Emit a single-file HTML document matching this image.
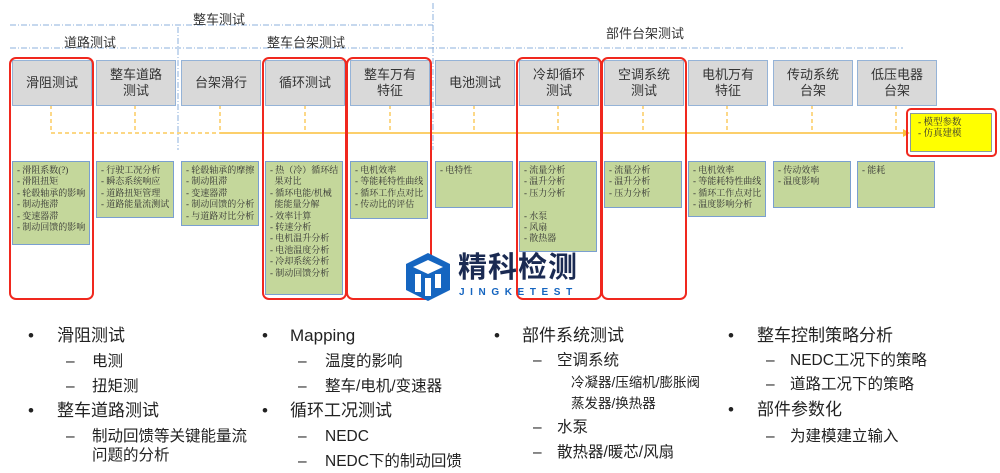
<!DOCTYPE html>
<html><head><meta charset="utf-8"><style>
body{margin:0;width:1000px;height:473px;background:#fff;position:relative;overflow:hidden;font-family:"Liberation Sans","Noto Sans CJK SC",sans-serif;}
.a{position:absolute}
.g{position:absolute;top:60px;width:78px;height:44px;background:#d9d9d9;border:1px solid #95b3d7;display:flex;align-items:center;justify-content:center;text-align:center;font-size:13px;line-height:16px;color:#333}
.gr{position:absolute;top:161px;width:78px;background:#c4d79b;border:1.5px solid #7a9fd0;box-sizing:border-box;padding:3px 0 0 4px;font-family:"Liberation Serif","Noto Serif CJK SC",serif;font-size:9px;line-height:11.4px;color:#333;white-space:nowrap;overflow:hidden}
.r{position:absolute;top:57px;height:243px;border:2.5px solid #f0281e;border-radius:7px;box-sizing:border-box}
.t{position:absolute;font-size:17px;color:#222;white-space:nowrap;line-height:20px}
.s{font-size:15.5px}
.ss{font-size:13.5px}
</style></head><body>
<svg class="a" style="left:0;top:0" width="1000" height="473">
<g stroke="#8eb0dc" stroke-width="1" stroke-dasharray="6,2,1,2" fill="none">
<line x1="10" y1="25" x2="433" y2="25"/>
<line x1="10" y1="48" x2="903" y2="48"/>
<line x1="178" y1="27" x2="178" y2="150"/>
<line x1="433" y1="3" x2="433" y2="150"/>
</g>
<g stroke="#fbbf3a" stroke-width="1.2" stroke-dasharray="4,3">
<line x1="51" y1="105" x2="51" y2="133"/><line x1="135" y1="105" x2="135" y2="133"/><line x1="220" y1="105" x2="220" y2="133"/><line x1="305" y1="105" x2="305" y2="133"/><line x1="390" y1="105" x2="390" y2="133"/><line x1="474" y1="105" x2="474" y2="133"/><line x1="558" y1="105" x2="558" y2="133"/><line x1="643" y1="105" x2="643" y2="133"/><line x1="727" y1="105" x2="727" y2="133"/><line x1="812" y1="105" x2="812" y2="133"/><line x1="896" y1="105" x2="896" y2="133"/>
<line x1="51" y1="133" x2="220" y2="133"/>
</g>
<line x1="220" y1="133" x2="903" y2="133" stroke="#fbbf3a" stroke-width="1.5"/>
<polygon points="903,129 910,133 903,137" fill="#fbbf3a"/>
</svg>
<div class="a" style="left:193px;top:9px;font-size:13px;color:#333">整车测试</div>
<div class="a" style="left:64px;top:32px;font-size:13px;color:#333">道路测试</div>
<div class="a" style="left:267px;top:32px;font-size:13px;color:#333">整车台架测试</div>
<div class="a" style="left:606px;top:23px;font-size:13px;color:#333">部件台架测试</div>

<div class="g" style="left:12px">滑阻测试</div>
<div class="g" style="left:96px">整车道路<br>测试</div>
<div class="g" style="left:181px">台架滑行</div>
<div class="g" style="left:265px">循环测试</div>
<div class="g" style="left:350px">整车万有<br>特征</div>
<div class="g" style="left:435px">电池测试</div>
<div class="g" style="left:519px">冷却循环<br>测试</div>
<div class="g" style="left:604px">空调系统<br>测试</div>
<div class="g" style="left:688px">电机万有<br>特征</div>
<div class="g" style="left:773px">传动系统<br>台架</div>
<div class="g" style="left:857px">低压电器<br>台架</div>

<div class="gr" style="left:12px;height:84px">- 滑阻系数(?)<br>- 滑阻扭矩<br>- 轮毂轴承的影响<br>- 制动拖滞<br>- 变速器滞<br>- 制动回馈的影响</div>
<div class="gr" style="left:96px;height:57px">- 行驶工况分析<br>- 瞬态系统响应<br>- 道路扭矩管理<br>- 道路能量流测试</div>
<div class="gr" style="left:181px;height:65px">- 轮毂轴承的摩擦<br>- 制动阻滞<br>- 变速器滞<br>- 制动回馈的分析<br>- 与道路对比分析</div>
<div class="gr" style="left:265px;height:134px">- 热（冷）循环结<br>&nbsp;&nbsp;果对比<br>- 循环电能/机械<br>&nbsp;&nbsp;能能量分解<br>- 效率计算<br>- 转速分析<br>- 电机温升分析<br>- 电池温度分析<br>- 冷却系统分析<br>- 制动回馈分析</div>
<div class="gr" style="left:350px;height:58px">- 电机效率<br>- 等能耗特性曲线<br>- 循环工作点对比<br>- 传动比的评估</div>
<div class="gr" style="left:435px;height:47px">- 电特性</div>
<div class="gr" style="left:519px;height:91px">- 流量分析<br>- 温升分析<br>- 压力分析<br><br>- 水泵<br>- 风扇<br>- 散热器</div>
<div class="gr" style="left:604px;height:47px">- 流量分析<br>- 温升分析<br>- 压力分析</div>
<div class="gr" style="left:688px;height:56px">- 电机效率<br>- 等能耗特性曲线<br>- 循环工作点对比<br>- 温度影响分析</div>
<div class="gr" style="left:773px;height:47px">- 传动效率<br>- 温度影响</div>
<div class="gr" style="left:857px;height:47px">- 能耗</div>

<div class="r" style="left:9px;width:85px"></div>
<div class="r" style="left:262px;width:85px"></div>
<div class="r" style="left:346px;width:86px"></div>
<div class="r" style="left:516px;width:86px"></div>
<div class="r" style="left:601px;width:86px"></div>
<div class="a" style="left:906px;top:108px;width:91px;height:49px;border:2.5px solid #f0281e;border-radius:5px;box-sizing:border-box"></div>
<div class="a" style="left:910px;top:113px;width:82px;height:39px;background:#ffff00;border:1.5px solid #8a9a9a;box-sizing:border-box;padding:4px 0 0 7px;font-family:'Liberation Serif','Noto Serif CJK SC',serif;font-size:9.5px;line-height:11.4px;color:#333">- 模型参数<br>- 仿真建模</div>

<svg class="a" style="left:403px;top:252px" width="50" height="50" viewBox="0 0 50 50">
<polygon points="25,1 47,12 47,38 25,49 3,38 3,12" fill="#1565c0"/>
<polygon points="25,8 40,15 25,22 10,15" fill="#fff"/>
<rect x="12" y="22" width="6" height="18" fill="#fff"/><rect x="22" y="26" width="6" height="18" fill="#fff"/><rect x="32" y="22" width="6" height="14" fill="#fff"/>
</svg>
<div class="a" style="left:458px;top:252px;font-size:29px;font-weight:bold;color:#1a2a52;letter-spacing:1px;line-height:32px">精科检测</div>
<div class="a" style="left:459px;top:287px;font-size:10px;font-weight:bold;color:#1565c0;letter-spacing:5.6px">JINGKETEST</div>

<div class="t" style="left:28px;top:326px">•</div><div class="t" style="left:57px;top:326px">滑阻测试</div>
<div class="t s" style="left:66px;top:352px">–</div><div class="t s" style="left:92px;top:352px">电测</div>
<div class="t s" style="left:66px;top:377px">–</div><div class="t s" style="left:92px;top:377px">扭矩测</div>
<div class="t" style="left:28px;top:401px">•</div><div class="t" style="left:57px;top:401px">整车道路测试</div>
<div class="t s" style="left:66px;top:427px">–</div><div class="t s" style="left:92px;top:427px">制动回馈等关键能量流</div>
<div class="t s" style="left:92px;top:446px">问题的分析</div>

<div class="t" style="left:262px;top:326px">•</div><div class="t" style="left:290px;top:326px">Mapping</div>
<div class="t s" style="left:298px;top:352px">–</div><div class="t s" style="left:325px;top:352px">温度的影响</div>
<div class="t s" style="left:298px;top:377px">–</div><div class="t s" style="left:325px;top:377px">整车/电机/变速器</div>
<div class="t" style="left:262px;top:401px">•</div><div class="t" style="left:290px;top:401px">循环工况测试</div>
<div class="t s" style="left:298px;top:427px">–</div><div class="t s" style="left:325px;top:427px">NEDC</div>
<div class="t s" style="left:298px;top:452px">–</div><div class="t s" style="left:325px;top:452px">NEDC下的制动回馈</div>

<div class="t" style="left:494px;top:326px">•</div><div class="t" style="left:522px;top:326px">部件系统测试</div>
<div class="t s" style="left:533px;top:351px">–</div><div class="t s" style="left:557px;top:351px">空调系统</div>
<div class="t ss" style="left:571px;top:373px">冷凝器/压缩机/膨胀阀</div>
<div class="t ss" style="left:571px;top:394px">蒸发器/换热器</div>
<div class="t s" style="left:533px;top:418px">–</div><div class="t s" style="left:557px;top:418px">水泵</div>
<div class="t s" style="left:533px;top:443px">–</div><div class="t s" style="left:557px;top:443px">散热器/暖芯/风扇</div>

<div class="t" style="left:728px;top:326px">•</div><div class="t" style="left:757px;top:326px">整车控制策略分析</div>
<div class="t s" style="left:766px;top:351px">–</div><div class="t s" style="left:790px;top:351px">NEDC工况下的策略</div>
<div class="t s" style="left:766px;top:375px">–</div><div class="t s" style="left:790px;top:375px">道路工况下的策略</div>
<div class="t" style="left:728px;top:400px">•</div><div class="t" style="left:757px;top:400px">部件参数化</div>
<div class="t s" style="left:766px;top:427px">–</div><div class="t s" style="left:790px;top:427px">为建模建立输入</div>
</body></html>
